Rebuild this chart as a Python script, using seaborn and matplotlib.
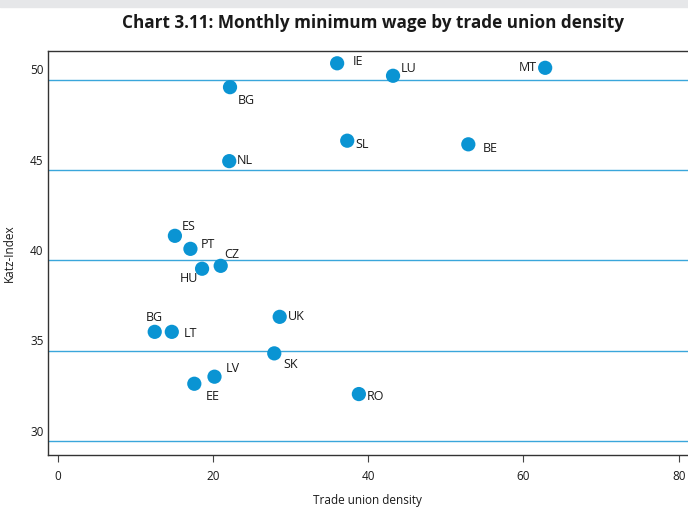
import matplotlib
matplotlib.use("Agg")
import matplotlib.pyplot as plt
import seaborn as sns
import pandas as pd
from matplotlib.patches import Rectangle

countries = ["IE", "LU", "MT", "SL", "BE", "BG", "NL", "ES", "PT", "HU",
             "CZ", "BG", "LT", "UK", "SK", "LV", "EE", "RO"]
union_density = [36.0, 43.2, 62.8, 37.3, 52.9, 22.2, 22.1, 15.1, 17.1, 18.6,
                 21.0, 12.5, 14.7, 28.6, 27.9, 20.2, 17.6, 38.8]
katz_index = [50.32, 49.63, 50.07, 46.04, 45.84, 49.00, 44.91, 40.78, 40.06, 38.96,
              39.12, 35.47, 35.47, 36.30, 34.28, 32.99, 32.60, 32.03]
# label offsets in pixels (dx, dy) and horizontal alignment
label_dx = [16, 8, -8, 8, 14, 8, 8, 7, 10, -4, 4, 0, 12, 8, 9, 11, 11, 8]
label_dy = [2, 7, 0, -4, -4, -13, 1, 9, 4, -10, 11, 14, -2, 0, -11, 8, -13, -2]
label_ha = ["left", "left", "right", "left", "left", "left", "left", "left", "left", "right",
            "left", "center", "left", "left", "left", "left", "left", "left"]

x_ticks = [0, 20, 40, 60, 80]
y_ticks = [30, 35, 40, 45, 50]
grid_levels = [29.42, 34.42, 39.42, 44.42, 49.42]

title = "Chart 3.11: Monthly minimum wage by trade union density"
x_label = "Trade union density"
y_label = "Katz-Index"

df = pd.DataFrame({"country": countries, "density": union_density, "katz": katz_index})

sns.set_style("white")
plt.rcParams["font.family"] = ["Open Sans", "DejaVu Sans"]

W, H = 688, 508
fig = plt.figure(figsize=(W / 100, H / 100), dpi=100)
fig.patches.append(Rectangle((0, 1 - 7 / H), 1, 7 / H, transform=fig.transFigure,
                             color="#e6e7e9", zorder=0))

left_px, top_px, bottom_px = 47.6, 51, 455
ax = fig.add_axes([left_px / W, 1 - bottom_px / H, 1 - left_px / W, (bottom_px - top_px) / H])

for g in grid_levels:
    ax.axhline(g, color="#3aa6db", lw=1.0, zorder=1)

sns.scatterplot(data=df, x="density", y="katz", ax=ax, s=105, color="#0a94d3",
                edgecolor="none", zorder=3, legend=False)

for i, c in enumerate(countries):
    ax.annotate(c, (union_density[i], katz_index[i]), xytext=(label_dx[i], label_dy[i]),
                textcoords="offset pixels", ha=label_ha[i], va="center",
                fontsize=9, color="#1a1a1a", zorder=4)

ax.set_xlim(-1.3, 81.2)
ax.set_ylim(28.66, 51.0)
ax.set_xticks(x_ticks)
ax.set_yticks(y_ticks)
ax.set_xticklabels([str(t) for t in x_ticks], fontsize=8.5, color="#1a1a1a")
ax.set_yticklabels([str(t) for t in y_ticks], fontsize=8.5, color="#1a1a1a")
ax.tick_params(axis="x", direction="out", length=5, width=0.8, color="#444444", pad=6, bottom=True)
ax.tick_params(axis="y", length=0, pad=3, left=False)
ax.set_xlabel(x_label, fontsize=8.5, color="#1a1a1a", labelpad=8)
ax.set_ylabel(y_label, fontsize=8.5, color="#1a1a1a", labelpad=10)

for side in ["left", "bottom", "top"]:
    ax.spines[side].set_visible(True)
    ax.spines[side].set_color("#333333")
    ax.spines[side].set_linewidth(1.0)
ax.spines["right"].set_visible(False)

fig.text(373 / W, 1 - 23 / H, title, ha="center", va="center", fontsize=12.3,
         fontweight="bold", color="#1a1a1a")

fig.savefig("out.png", dpi=100)
